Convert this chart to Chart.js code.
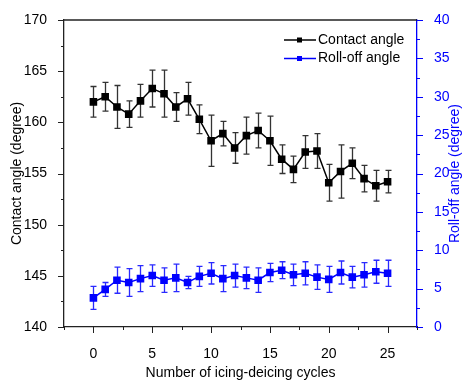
<!DOCTYPE html>
<html>
<head>
<meta charset="utf-8">
<script src="https://cdn.jsdelivr.net/npm/chart.js@4"></script>
<style>
html, body { margin: 0; padding: 0; background: #fff; }
#wrap { width: 464px; height: 382px; }
</style>
</head>
<body>
<div id="wrap"><canvas id="chart" width="464" height="382"></canvas></div>
<script>
// icing-deicing cycles on the x axis
const cycles = [0, 1, 2, 3, 4, 5, 6, 7, 8, 9, 10, 11, 12, 13, 14, 15, 16, 17, 18, 19, 20, 21, 22, 23, 24, 25];

// contact angle (degree) and its standard deviation
const contactAngle = [162.0, 162.5, 161.5, 160.8, 162.1, 163.3, 162.8, 161.5, 162.3, 160.3, 158.2, 158.9, 157.5,
                      158.7, 159.2, 158.2, 156.4, 155.4, 157.1, 157.2, 154.1, 155.2, 156.0, 154.5, 153.8, 154.2];
const contactErr = [1.5, 1.4, 2.1, 1.3, 1.6, 1.8, 2.3, 1.4, 1.6, 1.4, 2.5, 1.2, 1.5,
                    1.8, 1.7, 2.4, 1.4, 1.3, 1.6, 1.7, 1.8, 2.6, 1.5, 1.3, 1.5, 1.1];

// roll-off angle (degree) and its standard deviation
const rollOffAngle = [3.8, 4.9, 6.1, 5.8, 6.3, 6.7, 6.1, 6.4, 5.8, 6.6, 7.0, 6.3, 6.7,
                      6.4, 6.1, 7.1, 7.4, 6.8, 7.0, 6.5, 6.2, 7.1, 6.5, 6.8, 7.2, 7.0];
const rollOffErr = [1.5, 0.9, 1.7, 1.8, 1.7, 1.4, 1.6, 1.8, 0.8, 1.3, 1.4, 1.7, 1.5,
                    1.4, 1.6, 1.2, 1.1, 1.4, 1.5, 1.6, 1.7, 1.5, 1.4, 1.6, 1.5, 1.7];

const cycleTicks = [0, 5, 10, 15, 20, 25];
const contactTicks = [140, 145, 150, 155, 160, 165, 170];
const rollOffTicks = [0, 5, 10, 15, 20, 25, 30, 35, 40];

const BLACK = '#000000';
const AXIS = '#222222';
const BLUE = '#0000ff';
const FONT = 'Liberation Sans, Arial, sans-serif';

function toPoints(values) {
    return values.map((v, i) => ({ x: cycles[i], y: v }));
}

function fixTicks(list) {
    return function(scale) {
        scale.ticks = list.map(v => ({ value: v }));
    };
}

// vertical error bars with caps, drawn under the lines and markers
const errorBars = {
    id: 'errorBars',
    beforeDatasetsDraw(chart) {
        const ctx = chart.ctx;
        const xs = chart.scales.x;
        chart.data.datasets.forEach(ds => {
            const ys = chart.scales[ds.yAxisID];
            ctx.save();
            ctx.strokeStyle = ds.errorColor;
            ctx.lineWidth = 1.3;
            ds.data.forEach((p, i) => {
                const e = ds.errors[i];
                const px = Math.round(xs.getPixelForValue(p.x)) + 0.5;
                const top = ys.getPixelForValue(p.y + e);
                const bot = ys.getPixelForValue(p.y - e);
                ctx.beginPath();
                ctx.moveTo(px, top); ctx.lineTo(px, bot);
                ctx.moveTo(px - 3, top); ctx.lineTo(px + 3, top);
                ctx.moveTo(px - 3, bot); ctx.lineTo(px + 3, bot);
                ctx.stroke();
            });
            ctx.restore();
        });
    }
};

// outward major/minor tick marks, top frame line, right title and legend
const decorations = {
    id: 'decorations',
    afterDraw(chart) {
        const ctx = chart.ctx;
        const area = chart.chartArea;
        const { x, y, y2 } = chart.scales;

        function marks(scale, side, color, step) {
            ctx.save();
            ctx.strokeStyle = color;
            ctx.lineWidth = 1;
            ctx.beginPath();
            for (let v = scale.min; v <= scale.max + 1e-9; v += step) {
                const major = Math.abs(v / (step * 2) - Math.round(v / (step * 2))) < 1e-6;
                const len = major ? 6 : 3;
                const p = Math.round(scale.getPixelForValue(v)) + 0.5;
                if (side === 'left') { ctx.moveTo(area.left, p); ctx.lineTo(area.left - len, p); }
                if (side === 'right') { ctx.moveTo(area.right, p); ctx.lineTo(area.right + len, p); }
                if (side === 'bottom') { ctx.moveTo(p, area.bottom); ctx.lineTo(p, area.bottom + len); }
            }
            ctx.stroke();
            ctx.restore();
        }
        marks(y, 'left', AXIS, 2.5);
        marks(y2, 'right', BLUE, 2.5);
        marks(x, 'bottom', AXIS, 2.5);

        ctx.save();
        ctx.strokeStyle = AXIS;
        ctx.lineWidth = 1.3;
        ctx.beginPath();
        ctx.moveTo(area.left, area.top);
        ctx.lineTo(area.right, area.top);
        ctx.stroke();

        // right axis title reads bottom to top like the left one
        ctx.fillStyle = BLUE;
        ctx.font = '14px ' + FONT;
        ctx.textAlign = 'center';
        ctx.textBaseline = 'middle';
        ctx.translate(455, (area.top + area.bottom) / 2);
        ctx.rotate(-Math.PI / 2);
        ctx.fillText('Roll-off angle (degree)', 0, 0);
        ctx.restore();

        // legend in the upper right corner of the plot
        ctx.save();
        ctx.font = '14px ' + FONT;
        ctx.textBaseline = 'middle';
        ctx.textAlign = 'left';
        chart.data.datasets.forEach((ds, i) => {
            const ly = area.top + 20 + i * 18.5;
            const lx = area.right - 133;
            ctx.strokeStyle = ds.borderColor;
            ctx.lineWidth = 1.5;
            ctx.beginPath();
            ctx.moveTo(lx, ly); ctx.lineTo(lx + 32, ly);
            ctx.stroke();
            ctx.fillStyle = ds.borderColor;
            ctx.fillRect(lx + 13, ly - 2.5, 5, 5);
            ctx.fillStyle = '#000';
            ctx.fillText(ds.label, lx + 34, ly);
        });
        ctx.restore();
    }
};

new Chart(document.getElementById('chart').getContext('2d'), {
    type: 'line',
    data: {
        datasets: [
            {
                label: 'Contact angle',
                data: toPoints(contactAngle),
                errors: contactErr,
                errorColor: '#333333',
                yAxisID: 'y',
                borderColor: BLACK,
                backgroundColor: BLACK,
                borderWidth: 1.5,
                pointStyle: 'rect',
                pointRadius: 4.3,
                tension: 0
            },
            {
                label: 'Roll-off angle',
                data: toPoints(rollOffAngle),
                errors: rollOffErr,
                errorColor: '#2a2aff',
                yAxisID: 'y2',
                borderColor: BLUE,
                backgroundColor: BLUE,
                borderWidth: 1.5,
                pointStyle: 'rect',
                pointRadius: 4.3,
                tension: 0
            }
        ]
    },
    options: {
        responsive: false,
        animation: false,
        layout: { padding: { top: 20, left: 0, right: 0, bottom: 0 } },
        plugins: { legend: { display: false }, tooltip: { enabled: false } },
        scales: {
            x: {
                type: 'linear',
                min: -2.5,
                max: 27.5,
                afterBuildTicks: fixTicks(cycleTicks),
                afterFit(scale) { scale.height = 55; },
                grid: { display: false },
                border: { display: true, color: AXIS, width: 1.3 },
                ticks: { color: '#000', padding: 11, font: { size: 14, family: FONT } },
                title: {
                    display: true,
                    text: 'Number of icing-deicing cycles',
                    color: '#000',
                    font: { size: 14, family: FONT },
                    padding: { top: 0, bottom: 0 }
                }
            },
            y: {
                position: 'left',
                min: 140,
                max: 170,
                afterBuildTicks: fixTicks(contactTicks),
                afterFit(scale) { scale.width = 64; },
                grid: { display: false },
                border: { display: true, color: AXIS, width: 1.3 },
                ticks: { color: '#000', padding: 9, font: { size: 14, family: FONT } },
                title: {
                    display: true,
                    text: 'Contact angle (degree)',
                    color: '#000',
                    font: { size: 14, family: FONT },
                    padding: { top: 9, bottom: 0 }
                }
            },
            y2: {
                position: 'right',
                min: 0,
                max: 40,
                afterBuildTicks: fixTicks(rollOffTicks),
                afterFit(scale) { scale.width = 47; },
                grid: { display: false },
                border: { display: true, color: BLUE, width: 1.3 },
                ticks: { color: BLUE, padding: 9, font: { size: 14, family: FONT } }
            }
        }
    },
    plugins: [errorBars, decorations]
});
</script>
</body>
</html>
